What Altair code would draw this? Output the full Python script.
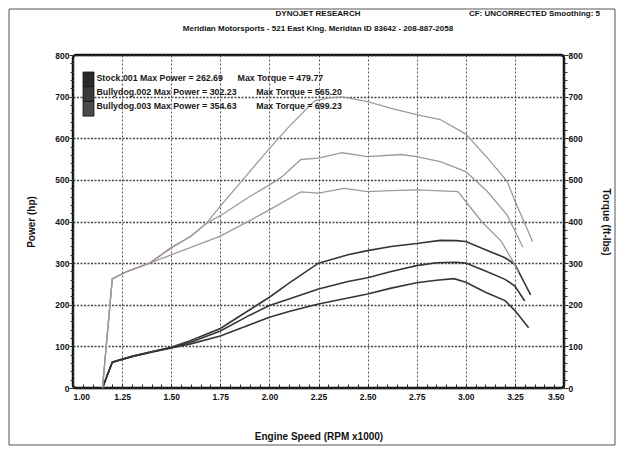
import altair as alt
import pandas as pd

# ---------------- data ----------------
series_names = ["Stock.001", "Bullydog.002", "Bullydog.003"]
max_power = [262.69, 302.23, 354.63]
max_torque = [479.77, 565.20, 699.23]

# Power curves (hp) vs RPM x1000
p001_rpm = [1.15, 1.20, 1.30, 1.40, 1.50, 1.60, 1.75, 1.90, 2.00, 2.10, 2.25, 2.40, 2.50, 2.62, 2.75, 2.85, 2.94, 3.00, 3.10, 3.20, 3.25, 3.32]
p001_val = [0, 62, 75, 86, 96, 106, 125, 152, 170, 184, 202, 216, 226, 240, 253, 259, 262.69, 254, 230, 210, 186, 145]
p002_rpm = [1.15, 1.20, 1.30, 1.40, 1.50, 1.60, 1.75, 1.90, 2.00, 2.10, 2.25, 2.40, 2.50, 2.62, 2.75, 2.85, 2.95, 3.00, 3.10, 3.20, 3.25, 3.30]
p002_val = [0, 62, 76, 87, 97, 110, 137, 175, 198, 214, 238, 256, 265, 280, 294, 301, 302.23, 300, 281, 261, 245, 209]
p003_rpm = [1.15, 1.20, 1.30, 1.40, 1.50, 1.60, 1.75, 1.90, 2.00, 2.10, 2.25, 2.40, 2.50, 2.62, 2.75, 2.87, 2.95, 3.00, 3.10, 3.20, 3.25, 3.33]
p003_val = [0, 62, 76, 87, 98, 114, 143, 188, 218, 252, 300, 320, 330, 340, 347, 354.63, 354, 352, 332, 313, 297, 224]

# Torque curves (ft-lbs) vs RPM x1000
t001_rpm = [1.15, 1.20, 1.27, 1.39, 1.50, 1.60, 1.75, 1.90, 2.00, 2.16, 2.25, 2.38, 2.50, 2.62, 2.75, 2.96, 3.00, 3.08, 3.18, 3.245, 3.27]
t001_val = [0, 262, 279, 300, 320, 338, 365, 402, 428, 471, 468, 479.77, 472, 474, 476, 472, 448, 400, 353, 300, 275]
t002_rpm = [1.15, 1.20, 1.27, 1.39, 1.50, 1.60, 1.68, 1.75, 1.90, 2.00, 2.06, 2.16, 2.25, 2.37, 2.50, 2.67, 2.75, 2.87, 3.00, 3.11, 3.21, 3.26, 3.29]
t002_val = [0, 262, 279, 300, 338, 364, 396, 414, 460, 488, 506, 549, 552, 565.20, 556, 561, 556, 544, 520, 472, 416, 368, 338]
t003_rpm = [1.15, 1.20, 1.27, 1.39, 1.50, 1.60, 1.68, 1.75, 1.90, 2.00, 2.10, 2.23, 2.30, 2.37, 2.50, 2.62, 2.75, 2.87, 3.00, 3.11, 3.21, 3.25, 3.34]
t003_val = [0, 262, 279, 300, 336, 365, 396, 437, 520, 575, 628, 690, 697, 699.23, 688, 672, 657, 645, 610, 553, 497, 450, 352]

x_ticks = [1.00, 1.25, 1.50, 1.75, 2.00, 2.25, 2.50, 2.75, 3.00, 3.25, 3.50]
y_ticks = [0, 100, 200, 300, 400, 500, 600, 700, 800]
x_minor = [round(1.0 + 0.05 * i, 2) for i in range(51)]
y_minor = [20 * i for i in range(41)]

title_main = "DYNOJET RESEARCH"
title_right = "CF: UNCORRECTED  Smoothing: 5"
title_sub = "Meridian Motorsports - 521 East King.  Meridian ID 83642 - 208-887-2058"

# ---------------- tables ----------------
def long(rpm, val, name):
    return pd.DataFrame({"rpm": rpm, "value": val, "series": name})

power_df = pd.concat([long(p001_rpm, p001_val, series_names[0]),
                      long(p002_rpm, p002_val, series_names[1]),
                      long(p003_rpm, p003_val, series_names[2])], ignore_index=True)
torque_df = pd.concat([long(t001_rpm, t001_val, series_names[0]),
                       long(t002_rpm, t002_val, series_names[1]),
                       long(t003_rpm, t003_val, series_names[2])], ignore_index=True)

W, H = 491, 333
FONT = "Liberation Sans"

xs = alt.Scale(domain=[1.0, 3.5], nice=False, zero=False)
ys = alt.Scale(domain=[0, 800], nice=False)

power = alt.Chart(power_df).mark_line(color="#363636", strokeWidth=1.6).encode(
    x=alt.X("rpm:Q", scale=xs, axis=alt.Axis(
        values=x_ticks, format=".2f", title="Engine Speed (RPM x1000)", orient="bottom",
        grid=True, gridColor="#444", gridDash=[2, 2], gridWidth=1, gridOpacity=0.9,
        domain=False, ticks=False, labelPadding=4,
        labelFont=FONT, labelFontWeight="bold", labelFontSize=8.5, labelColor="#111",
        titleFont=FONT, titleFontWeight="bold", titleFontSize=10, titleColor="#111",
        titlePadding=31)),
    y=alt.Y("value:Q", scale=ys, axis=alt.Axis(
        values=y_ticks, title="Power (hp)", orient="left",
        grid=True, gridColor="#333", gridDash=[2, 1.5], gridWidth=1.3, gridOpacity=0.9,
        domain=False, ticks=True, tickSize=4, tickColor="#222", labelPadding=0,
        labelFont=FONT, labelFontWeight="bold", labelFontSize=8.5, labelColor="#111",
        titleFont=FONT, titleFontWeight="bold", titleFontSize=10, titleColor="#111",
        titlePadding=18)),
    detail="series:N",
)

torque = alt.Chart(torque_df).mark_line(color="#a39894", strokeWidth=1.3).encode(
    x=alt.X("rpm:Q", scale=xs, axis=alt.Axis(
        values=x_minor, orient="top", offset=-H, labels=False, grid=False,
        domain=False, ticks=True, tickSize=4, tickColor="#222", title=None)),
    y=alt.Y("value:Q", scale=ys, axis=alt.Axis(
        values=y_ticks, title="Torque (ft-lbs)", orient="right",
        grid=False, domain=False, ticks=True, tickSize=4, tickColor="#222", labelPadding=0,
        labelFont=FONT, labelFontWeight="bold", labelFontSize=8.5, labelColor="#111",
        titleFont=FONT, titleFontWeight="bold", titleFontSize=10, titleColor="#111",
        titlePadding=18)),
    detail="series:N",
)

minor_left = alt.Chart(power_df).mark_point(opacity=0).encode(
    x=alt.X("rpm:Q", scale=xs, axis=None),
    y=alt.Y("value:Q", scale=ys, axis=alt.Axis(
        values=y_minor, orient="left", labels=False, grid=False, domain=False,
        ticks=True, tickSize=3, tickColor="#333", title=None)),
)
minor_right = alt.Chart(power_df).mark_point(opacity=0).encode(
    x=alt.X("rpm:Q", scale=xs, axis=None),
    y=alt.Y("value:Q", scale=ys, axis=alt.Axis(
        values=y_minor, orient="right", labels=False, grid=False, domain=False,
        ticks=True, tickSize=3, tickColor="#333", title=None)),
)

# legend box
legend_lines = [f"{n} Max Power = {p:.2f}" + "\u00a0" * (6 if i == 0 else 8) + f"Max Torque = {t:.2f}"
                for i, (n, p, t) in enumerate(zip(series_names, max_power, max_torque))]
legend_df = pd.DataFrame({"txt": ["\n".join(legend_lines)]})
legend_text = alt.Chart(legend_df).mark_text(
    align="left", baseline="top", font=FONT, fontWeight="bold", fontSize=8.8,
    color="#1a1a1a", lineBreak="\n", lineHeight=14.4,
).encode(x=alt.value(23.5), y=alt.value(18.5), text="txt:N")

swatches = []
shades = ["#2a2a2a", "#3a3a3a", "#4a4a4a"]
for i in range(3):
    swatches.append(alt.Chart(legend_df).mark_rect(
        fill=shades[i], stroke="#111", strokeWidth=0.8).encode(
        x=alt.value(10), x2=alt.value(21),
        y=alt.value(17 + i * 14.7), y2=alt.value(17 + (i + 1) * 14.7)))

title_df = pd.DataFrame({"a": [title_main], "b": [title_right], "c": [title_sub]})
t1 = alt.Chart(title_df).mark_text(font=FONT, fontWeight="bold", fontSize=8, color="#111",
                                   align="center", baseline="middle").encode(
    x=alt.value(245), y=alt.value(-41), text="a:N")
t2 = alt.Chart(title_df).mark_text(font=FONT, fontWeight="bold", fontSize=8, color="#111",
                                   align="right", baseline="middle").encode(
    x=alt.value(527), y=alt.value(-41), text="b:N")
t3 = alt.Chart(title_df).mark_text(font=FONT, fontWeight="bold", fontSize=8, color="#111",
                                   align="center", baseline="middle").encode(
    x=alt.value(245), y=alt.value(-26), text="c:N")

frame = alt.Chart(title_df).mark_rect(fill=None, stroke="#555", strokeWidth=1).encode(
    x=alt.value(-64), x2=alt.value(542), y=alt.value(-46), y2=alt.value(390))

chart = alt.layer(power, torque, minor_left, minor_right, legend_text, *swatches, t1, t2, t3, frame).resolve_axis(
    x="independent", y="independent"
).properties(
    width=W, height=H,
    autosize=alt.AutoSizeParams(type="none"),
    padding={"left": 65, "top": 47, "right": 52, "bottom": 58},
    background="white",
).configure_view(stroke="#111", strokeWidth=2.5, cornerRadius=3)

chart.save("out.html", embed_options={"renderer": "svg", "actions": False})
